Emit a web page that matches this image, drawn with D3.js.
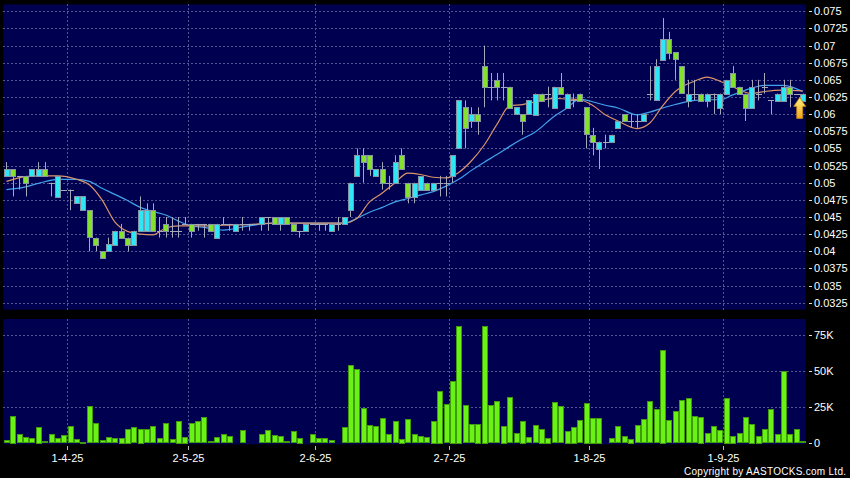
<!DOCTYPE html>
<html>
<head>
<meta charset="utf-8">
<script src="https://cdn.jsdelivr.net/npm/d3@7"></script>
<style>
  html, body { margin: 0; padding: 0; background: #000; }
  svg { display: block; }
</style>
</head>
<body>
<svg id="chart" width="850" height="478"></svg>
<script>
// daily candles with two moving averages, volume underneath

const dates = [
  "2025-03-18","2025-03-19","2025-03-20","2025-03-21","2025-03-24","2025-03-25","2025-03-26","2025-03-27","2025-03-28","2025-03-31",
  "2025-04-01","2025-04-02","2025-04-03","2025-04-07","2025-04-08","2025-04-09","2025-04-10","2025-04-11","2025-04-14","2025-04-15",
  "2025-04-16","2025-04-17","2025-04-22","2025-04-23","2025-04-24","2025-04-25","2025-04-28","2025-04-29","2025-04-30","2025-05-02",
  "2025-05-06","2025-05-07","2025-05-08","2025-05-09","2025-05-12","2025-05-13","2025-05-14","2025-05-15","2025-05-16","2025-05-19",
  "2025-05-20","2025-05-21","2025-05-22","2025-05-23","2025-05-26","2025-05-27","2025-05-28","2025-05-29","2025-05-30","2025-06-02",
  "2025-06-03","2025-06-04","2025-06-05","2025-06-06","2025-06-09","2025-06-10","2025-06-11","2025-06-12","2025-06-13","2025-06-16",
  "2025-06-17","2025-06-18","2025-06-19","2025-06-20","2025-06-23","2025-06-24","2025-06-25","2025-06-26","2025-06-27","2025-06-30",
  "2025-07-02","2025-07-03","2025-07-04","2025-07-07","2025-07-08","2025-07-09","2025-07-10","2025-07-11","2025-07-14","2025-07-15",
  "2025-07-16","2025-07-17","2025-07-18","2025-07-21","2025-07-22","2025-07-23","2025-07-24","2025-07-25","2025-07-28","2025-07-29",
  "2025-07-30","2025-07-31","2025-08-01","2025-08-04","2025-08-05","2025-08-06","2025-08-07","2025-08-08","2025-08-11","2025-08-12",
  "2025-08-13","2025-08-14","2025-08-15","2025-08-18","2025-08-19","2025-08-20","2025-08-21","2025-08-22","2025-08-25","2025-08-26",
  "2025-08-27","2025-08-28","2025-08-29","2025-09-01","2025-09-02","2025-09-03","2025-09-04","2025-09-05","2025-09-08","2025-09-09",
  "2025-09-10","2025-09-11","2025-09-12","2025-09-15","2025-09-16","2025-09-17"
];

const open = [
  .051,.052,.051,.051,.051,.051,.052,.050,.048,.049,
  .049,.047,.046,.046,.042,.040,.040,.041,.043,.042,
  .041,.043,.043,.046,.043,.044,.043,.043,.044,.044,
  .044,.044,.044,.042,.044,.044,.043,.044,.044,.044,
  .044,.045,.045,.044,.045,.044,.043,.043,.044,.044,
  .044,.043,.044,.044,.046,.051,.054,.054,.051,.052,
  .050,.050,.054,.050,.048,.049,.050,.049,.050,.050,
  .051,.055,.061,.059,.060,.067,.064,.065,.064,.064,
  .060,.060,.060,.060,.063,.063,.061,.064,.061,.062,
  .063,.061,.057,.055,.056,.056,.058,.060,.059,.059,
  .059,.063,.062,.068,.071,.069,.067,.062,.063,.063,
  .062,.063,.061,.063,.066,.064,.063,.061,.063,.064,
  .062,.062,.062,.064,.063,.062
];
const high = [
  .053,.052,.051,.051,.052,.053,.053,.050,.051,.049,
  .049,.048,.048,.046,.042,.040,.042,.043,.044,.042,
  .043,.048,.047,.047,.045,.045,.045,.045,.045,.044,
  .044,.044,.044,.044,.045,.044,.044,.045,.044,.044,
  .045,.045,.045,.045,.045,.044,.043,.044,.044,.044,
  .044,.044,.045,.045,.050,.055,.055,.054,.052,.053,
  .051,.054,.055,.050,.050,.051,.050,.050,.051,.051,
  .054,.062,.062,.061,.061,.070,.066,.066,.066,.064,
  .061,.060,.062,.063,.063,.064,.064,.066,.063,.063,
  .063,.061,.058,.056,.057,.057,.059,.060,.060,.060,
  .060,.067,.068,.074,.072,.069,.067,.065,.065,.063,
  .063,.063,.063,.065,.067,.064,.063,.065,.065,.066,
  .062,.063,.065,.065,.063,.063
];
const low = [
  .051,.048,.049,.048,.051,.051,.051,.048,.048,.049,
  .046,.047,.046,.040,.040,.039,.040,.041,.042,.040,
  .041,.043,.043,.043,.042,.042,.042,.042,.044,.042,
  .043,.042,.043,.042,.044,.043,.043,.043,.043,.044,
  .043,.043,.044,.043,.044,.043,.042,.043,.044,.043,
  .043,.043,.043,.044,.045,.051,.050,.051,.051,.049,
  .049,.050,.052,.047,.047,.049,.049,.049,.048,.048,
  .050,.055,.055,.058,.057,.061,.062,.062,.062,.061,
  .060,.057,.060,.060,.062,.061,.061,.063,.061,.061,
  .062,.055,.054,.052,.055,.056,.058,.059,.058,.058,
  .059,.062,.062,.068,.068,.065,.063,.061,.062,.062,
  .061,.060,.060,.063,.064,.063,.059,.061,.062,.063,
  .060,.062,.062,.061,.063,.062
];
const close = [
  .052,.051,.051,.050,.052,.052,.051,.050,.051,.049,
  .049,.048,.048,.042,.041,.039,.041,.043,.042,.041,
  .043,.046,.046,.043,.043,.043,.043,.043,.044,.043,
  .044,.044,.043,.044,.044,.044,.044,.044,.044,.044,
  .045,.045,.044,.045,.044,.043,.043,.044,.044,.044,
  .044,.044,.044,.045,.050,.054,.053,.052,.052,.050,
  .050,.053,.052,.048,.050,.051,.049,.050,.050,.050,
  .054,.062,.058,.060,.059,.064,.064,.064,.064,.061,
  .061,.059,.062,.063,.062,.063,.064,.063,.063,.062,
  .062,.057,.056,.056,.056,.057,.059,.059,.059,.059,
  .060,.063,.067,.071,.069,.068,.063,.063,.063,.062,
  .063,.063,.063,.065,.064,.063,.061,.064,.063,.064,
  .062,.063,.064,.063,.063,.063
];
const volume = [
  2300,19200,6500,4200,3500,11500,1600,6200,3700,5500,
  12000,3000,1200,25900,14100,2100,4400,3700,3900,10200,
  11100,10200,9700,12000,3700,14100,2800,15700,4600,14100,
  15200,18000,1600,4400,6500,4800,500,9200,700,500,
  6500,9200,5800,5100,1400,8500,3900,200,6200,3700,
  3700,2100,200,11100,54300,51300,24500,12500,12000,17300,
  6500,15500,3200,16700,6200,5100,4400,15700,36500,27300,
  43400,81500,26300,13200,13600,81500,26300,29300,12200,31900,
  7200,15700,4400,12500,10200,3900,28600,25600,8800,11500,
  15900,28200,17800,17800,700,3500,11800,5100,3200,12700,
  16900,29300,23800,64700,16200,22400,30000,31400,18700,18500,
  7200,11800,9000,31600,5300,7200,18000,13600,5300,9700,
  23800,6200,49900,6200,9900,1600
];

// moving averages at these bar positions
const maIdx = [0,3,5,8,11,13,15,17,19,21,23,25,27,29,31,34,38,42,46,50,53,55,57,59,61,63,65,67,69,71,73,75,77,79,81,83,86,88,90,92,94,96,99,101,103,105,108,110,112,114,117,119,122,125];
const maShort = [
  .0502,.0509,.0510,.0510,.0505,.0497,.0475,.0443,.0429,.0425,.0424,.0434,.0437,.0437,.0437,.0438,.0439,.0441,.0441,.0441,
  .0441,.0448,.0472,.0485,.0500,.0514,.0512,.0508,.0507,.0515,.0532,.0555,.0585,.0612,.0614,.0618,.0623,.0622,.0621,.0613,
  .0599,.0590,.0579,.0587,.0612,.0633,.0648,.0654,.0648,.0640,.0630,.0633,.0635,.0634
];
const maLong = [
  .0490,.0494,.0499,.0505,.0505,.0502,.0492,.0483,.0474,.0464,.0458,.0453,.0444,.0437,.0435,.0431,.0437,.0441,.0441,.0441,
  .0441,.0448,.0457,.0464,.0472,.0477,.0482,.0487,.0495,.0505,.0518,.0530,.0541,.0553,.0564,.0574,.0597,.0609,.0622,.0618,
  .0613,.0609,.0599,.0603,.0609,.0614,.0620,.0621,.0621,.0628,.0638,.0642,.0642,.0633
];

const priceTicks = [0.075,0.0725,0.07,0.0675,0.065,0.0625,0.06,0.0575,0.055,0.0525,0.05,0.0475,0.045,0.0425,0.04,0.0375,0.035,0.0325];
const priceTickLabels = ["0.075","0.0725","0.07","0.0675","0.065","0.0625","0.06","0.0575","0.055","0.0525","0.05","0.0475","0.045","0.0425","0.04","0.0375","0.035","0.0325"];
const volTicks = [0, 25000, 50000, 75000];
const volTickLabels = ["0", "25K", "50K", "75K"];
const dateTicks = ["2025-04-01","2025-05-02","2025-06-02","2025-07-02","2025-08-01","2025-09-01"];
const dateTickLabels = ["1-4-25","2-5-25","2-6-25","2-7-25","1-8-25","1-9-25"];

const svg = d3.select('#chart');
const left = 3.3, right = 805.9;
const priceTop = 4.4, priceBottom = 309.6;
const volTop = 319, volBottom = 443.3;

const x = d3.scaleBand()
  .domain(dates)
  .range([left, right])
  .paddingInner(0.16)
  .paddingOuter(0.08);
const bw = x.bandwidth();
const slotLeft = (d) => x(d) - (x.step() - bw) / 2;
const cx = (d) => x(d) + bw / 2;
const boxW = Math.round(x.step()) - 1;
const boxX = (d) => Math.round(cx(d) - boxW / 2) + 0.5;

const y = d3.scaleLinear().domain([0.0315, 0.076]).range([priceBottom, priceTop]);
const yv = d3.scaleLinear().domain([0, 86000]).range([volBottom, volTop]);

const font = 'Arial, "Liberation Sans", sans-serif';
const gridColor = '#55558f';
const navy = '#000050';

// panels
svg.append('rect').attr('x', left).attr('y', priceTop).attr('width', right - left).attr('height', priceBottom - priceTop).attr('fill', navy);
svg.append('rect').attr('x', left).attr('y', volTop).attr('width', right - left).attr('height', volBottom - volTop + 1).attr('fill', navy);

// grids
const grid = svg.append('g').attr('stroke', gridColor).attr('stroke-width', 1).attr('stroke-dasharray', '2,2').attr('shape-rendering', 'crispEdges');
grid.selectAll('.hp').data(priceTicks).enter().append('line')
  .attr('x1', left).attr('x2', right)
  .attr('y1', (d) => Math.round(y(d)) + 0.5).attr('y2', (d) => Math.round(y(d)) + 0.5);
grid.selectAll('.hv').data(volTicks.slice(1)).enter().append('line')
  .attr('x1', left).attr('x2', right)
  .attr('y1', (d) => Math.round(yv(d)) + 0.5).attr('y2', (d) => Math.round(yv(d)) + 0.5);
dateTicks.forEach((d) => {
  const gx = Math.round(slotLeft(d)) + 0.5;
  grid.append('line').attr('x1', gx).attr('x2', gx).attr('y1', priceTop).attr('y2', priceBottom);
  grid.append('line').attr('x1', gx).attr('x2', gx).attr('y1', volTop).attr('y2', volBottom);
});

// moving averages (behind candles)
const maLine = (vals) => d3.line()
  .x((d, i) => cx(dates[maIdx[i]]))
  .y((d) => y(d))
  .curve(d3.curveMonotoneX)(vals);
svg.append('path').attr('d', maLine(maLong)).attr('fill', 'none').attr('stroke', '#42a2ec').attr('stroke-width', 1.2);
svg.append('path').attr('d', maLine(maShort)).attr('fill', 'none').attr('stroke', '#dc946a').attr('stroke-width', 1.2);

// candles
const candles = svg.append('g');
const idx = d3.range(dates.length);
candles.selectAll('.wick').data(idx).enter().append('line')
  .attr('x1', (i) => Math.round(cx(dates[i])) + 0.5)
  .attr('x2', (i) => Math.round(cx(dates[i])) + 0.5)
  .attr('y1', (i) => y(high[i]))
  .attr('y2', (i) => y(low[i]))
  .attr('stroke', '#a4a8b8')
  .attr('stroke-width', 1);
candles.selectAll('.body').data(idx).enter().append('rect')
  .attr('x', (i) => boxX(dates[i]))
  .attr('width', boxW)
  .attr('y', (i) => Math.round(y(Math.max(open[i], close[i]))) + 0.5)
  .attr('height', (i) => Math.max(0.01, Math.round(Math.abs(y(open[i]) - y(close[i])))))
  .attr('fill', (i) => close[i] > open[i] ? '#2ee6f4' : (close[i] < open[i] ? '#84e22c' : 'none'))
  .attr('stroke', (i) => close[i] === open[i] ? '#a4a8b8' : '#8595a6')
  .attr('stroke-width', 1);

// arrow under the latest bar
const last = dates.length - 1;
const ax = cx(dates[last]) - 3;
const ay = y(low[last]) - 3;
const grad = svg.append('defs').append('linearGradient').attr('id', 'arrowGrad').attr('x1', 0).attr('y1', 0).attr('x2', 0).attr('y2', 1);
grad.append('stop').attr('offset', '0%').attr('stop-color', '#fff27a');
grad.append('stop').attr('offset', '100%').attr('stop-color', '#f2a81c');
svg.append('path')
  .attr('d', `M${ax},${ay} L${ax + 6},${ay + 9} L${ax + 3},${ay + 9} L${ax + 3},${ay + 21} L${ax - 3},${ay + 21} L${ax - 3},${ay + 9} L${ax - 6},${ay + 9} Z`)
  .attr('fill', 'url(#arrowGrad)')
  .attr('stroke', '#c98212')
  .attr('stroke-width', 0.8);

// volume bars
svg.append('g').selectAll('rect').data(idx).enter().append('rect')
  .attr('x', (i) => boxX(dates[i]))
  .attr('width', boxW)
  .attr('y', (i) => Math.round(yv(volume[i])) + 0.5)
  .attr('height', (i) => Math.max(0, Math.round(yv(0) - yv(volume[i])) - 1))
  .attr('fill', '#6af216')
  .attr('stroke', '#3f9a0c')
  .attr('stroke-width', 1);

// right axis labels
const axis = svg.append('g').attr('font-family', font).attr('font-size', 11).attr('fill', '#fff');
priceTicks.forEach((p, i) => {
  const ty = y(p);
  axis.append('line').attr('x1', 809).attr('x2', 812).attr('y1', Math.round(ty) + 0.5).attr('y2', Math.round(ty) + 0.5).attr('stroke', '#ddd');
  axis.append('text').attr('x', 814).attr('y', ty + 4).text(priceTickLabels[i]);
});
volTicks.forEach((v, i) => {
  const ty = yv(v);
  axis.append('line').attr('x1', 809).attr('x2', 812).attr('y1', Math.round(ty) + 0.5).attr('y2', Math.round(ty) + 0.5).attr('stroke', '#ddd');
  axis.append('text').attr('x', 814).attr('y', ty + 4).text(volTickLabels[i]);
});

// date axis
dateTicks.forEach((d, i) => {
  const gx = Math.round(slotLeft(d)) + 0.5;
  axis.append('line').attr('x1', gx).attr('x2', gx).attr('y1', 446).attr('y2', 450).attr('stroke', '#bbb');
  axis.append('text').attr('x', gx).attr('y', 462).attr('text-anchor', 'middle').text(dateTickLabels[i]);
});

svg.append('text')
  .attr('x', 846).attr('y', 475)
  .attr('text-anchor', 'end')
  .attr('font-family', font).attr('font-size', 10).attr('fill', '#fff')
  .attr('textLength', 162).attr('lengthAdjust', 'spacing')
  .text('Copyright by AASTOCKS.com Ltd.');
</script>
</body>
</html>
